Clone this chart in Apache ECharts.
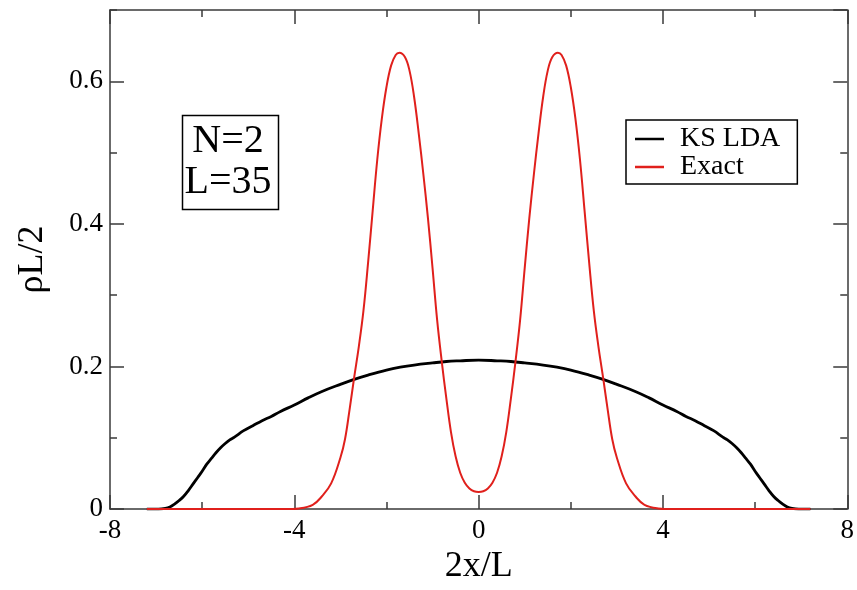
<!DOCTYPE html>
<html>
<head>
<meta charset="utf-8">
<title>rho L/2</title>
<script src="https://cdn.jsdelivr.net/npm/echarts@6/dist/echarts.min.js"></script>
<style>
  html, body { margin: 0; padding: 0; background: #fff; }
  #chart { width: 857px; height: 590px; }
</style>
</head>
<body>
<div id="chart"></div>
<script type="text/javascript">

// KS LDA density
var ldaX = [-7.2, -6.95, -6.8, -6.7, -6.6, -6.5, -6.4, -6.3, -6.2, -6.1, -6.0, -5.9, -5.8, -5.7, -5.6, -5.5, -5.4,
            -5.3, -5.1, -4.9, -4.7, -4.5, -4.3, -4.0, -3.7, -3.4, -3.0, -2.7, -2.4, -2.0, -1.7, -1.4, -1.0,
            -0.7, -0.4, 0,
            0.4, 0.7, 1.0, 1.4, 1.7, 2.0, 2.4, 2.7, 3.0, 3.4, 3.7, 4.0, 4.3, 4.5, 4.7, 4.9, 5.1, 5.3,
            5.4, 5.5, 5.6, 5.7, 5.8, 5.9, 6.0, 6.1, 6.2, 6.3, 6.4, 6.5, 6.6, 6.7, 6.8, 6.95, 7.2];
var ldaY = [0, 0, 0.001, 0.003, 0.007, 0.012, 0.018, 0.026, 0.035, 0.044, 0.053, 0.063, 0.071, 0.079, 0.086, 0.092, 0.097,
            0.101, 0.110, 0.117, 0.124, 0.130, 0.137, 0.146, 0.156, 0.165, 0.175, 0.182, 0.188, 0.195, 0.199, 0.202, 0.205,
            0.207, 0.208, 0.209,
            0.208, 0.207, 0.205, 0.202, 0.199, 0.195, 0.188, 0.182, 0.175, 0.165, 0.156, 0.146, 0.137, 0.130, 0.124, 0.117, 0.110, 0.101,
            0.097, 0.092, 0.086, 0.079, 0.071, 0.063, 0.053, 0.044, 0.035, 0.026, 0.018, 0.012, 0.007, 0.003, 0.001, 0, 0];

// exact density
var exactX = [-7.2, -4.2, -3.9, -3.6, -3.4, -3.2, -3.0, -2.9, -2.8, -2.7, -2.6, -2.5, -2.4, -2.3, -2.2, -2.1,
              -2.0, -1.9, -1.8, -1.72, -1.6, -1.5, -1.4, -1.3, -1.2, -1.1, -1.0, -0.9, -0.8, -0.7, -0.6, -0.5,
              -0.4, -0.3, -0.2, -0.1, 0,
              0.1, 0.2, 0.3, 0.4, 0.5, 0.6, 0.7, 0.8, 0.9, 1.0, 1.1, 1.2, 1.3, 1.4, 1.5, 1.6, 1.72, 1.8, 1.9,
              2.0, 2.1, 2.2, 2.3, 2.4, 2.5, 2.6, 2.7, 2.8, 2.9, 3.0, 3.2, 3.4, 3.6, 3.9, 4.2, 7.2];
var exactY = [0, 0, 0.001, 0.006, 0.018, 0.036, 0.072, 0.098, 0.140, 0.185, 0.228, 0.278, 0.345, 0.418, 0.490, 0.548,
              0.592, 0.622, 0.637, 0.640, 0.634, 0.615, 0.578, 0.527, 0.470, 0.408, 0.338, 0.265, 0.207, 0.155, 0.108, 0.074,
              0.051, 0.037, 0.029, 0.025, 0.024,
              0.025, 0.029, 0.037, 0.051, 0.074, 0.108, 0.155, 0.207, 0.265, 0.338, 0.408, 0.470, 0.527, 0.578, 0.615, 0.634, 0.640, 0.637, 0.622,
              0.592, 0.548, 0.490, 0.418, 0.345, 0.278, 0.228, 0.185, 0.140, 0.098, 0.072, 0.036, 0.018, 0.006, 0.001, 0, 0];

var seriesNames = ['KS LDA', 'Exact'];
var xTitle = '2x/L';
var yTitle = 'ρL/2';
var boxText = 'N=2\nL=35';

function pairs(xs, ys) {
    var out = [];
    for (var i = 0; i < xs.length; i++) out.push([xs[i], ys[i]]);
    return out;
}

var serif = '"Liberation Serif", "DejaVu Serif", serif';
var axisColor = '#3a3a3a';

function xAx(pos, withLabels) {
    return {
        type: 'value', position: pos, min: -8, max: 8, interval: 4,
        axisLine: { onZero: false, lineStyle: { color: axisColor, width: 1.5 } },
        axisTick: { inside: true, length: 14, lineStyle: { color: axisColor, width: 1.5 } },
        minorTick: { show: true, splitNumber: 2, length: 7, lineStyle: { color: axisColor, width: 1.5 } },
        splitLine: { show: false },
        axisLabel: { show: withLabels, fontFamily: serif, fontSize: 27, color: '#000', margin: 8 },
        name: withLabels ? xTitle : '',
        nameLocation: 'middle', nameGap: 39,
        nameTextStyle: { fontFamily: serif, fontSize: 36, color: '#000' }
    };
}

function yAx(pos, major) {
    return {
        type: 'value', position: pos, min: 0, max: 0.7, interval: major ? 0.2 : 0.1,
        axisLine: { show: major, onZero: false, lineStyle: { color: axisColor, width: 1.5 } },
        axisTick: { inside: true, length: major ? 14 : 7, lineStyle: { color: axisColor, width: 1.5 } },
        splitLine: { show: false },
        axisLabel: { show: major && pos == 'left', showMaxLabel: false, fontFamily: serif, fontSize: 27, color: '#000', margin: 7 },
        name: (major && pos == 'left') ? yTitle : '',
        nameLocation: 'middle', nameGap: 59, nameRotate: 90,
        nameTextStyle: { fontFamily: serif, fontSize: 36, color: '#000' }
    };
}

var chart = echarts.init(document.getElementById('chart'));
chart.setOption({
    animation: false,
    backgroundColor: '#fff',
    grid: { left: 110, right: 9, top: 10, bottom: 67 },
    legend: {
        orient: 'vertical', left: 626, top: 120,
        padding: [5, 17, 3, 9],
        itemGap: 0,
        borderColor: '#000', borderWidth: 1.5,
        icon: 'rect', itemWidth: 29, itemHeight: 2.5,
        textStyle: { fontFamily: serif, fontSize: 28, lineHeight: 28, color: '#000', padding: [0, 0, 0, 11] },
        data: seriesNames
    },
    xAxis: [xAx('bottom', true), xAx('top', false)],
    yAxis: [yAx('left', true), yAx('right', true), yAx('left', false), yAx('right', false)],
    graphic: [
        { type: 'rect', left: 180, top: 113, shape: { width: 96, height: 94 },
          style: { fill: 'none', stroke: '#000', lineWidth: 1.5 } },
        { type: 'text', x: 228, y: 162,
          style: { text: boxText, font: '40px ' + serif, fill: '#000', align: 'center',
                   verticalAlign: 'middle', lineHeight: 41 } }
    ],
    series: [
        { name: seriesNames[0], type: 'line', data: pairs(ldaX, ldaY), showSymbol: false,
          smooth: 0.4, color: '#000', lineStyle: { color: '#000', width: 2.8 } },
        { name: seriesNames[1], type: 'line', data: pairs(exactX, exactY), showSymbol: false,
          smooth: 0.4, color: '#e0201c', lineStyle: { color: '#e0201c', width: 2 } }
    ]
});
</script>
</body>
</html>
